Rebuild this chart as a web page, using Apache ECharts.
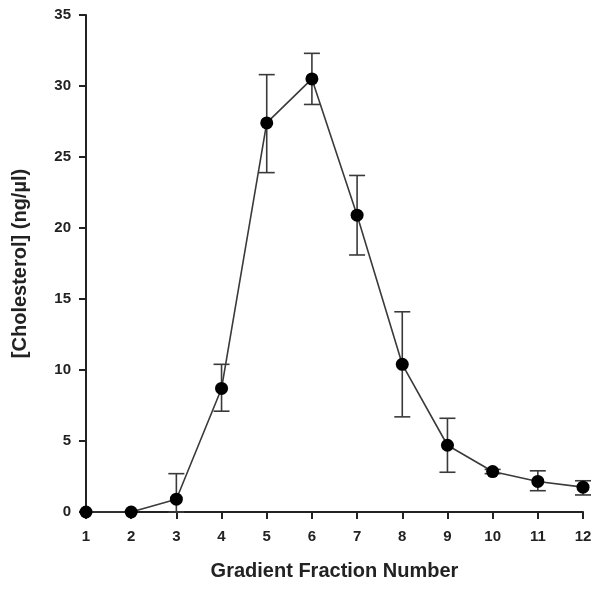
<!DOCTYPE html>
<html>
<head>
    <meta charset="utf-8">
    <title>Cholesterol</title>
    <script type="text/javascript" src="https://cdn.jsdelivr.net/npm/echarts@6/dist/echarts.min.js"></script>
    <style>
        html, body { margin: 0; padding: 0; background: #fff; }
    </style>
</head>
<body>
	<div id="main" style="height:590px; width:601px;"></div>
	<script type="text/javascript">
	// gradient fractions and cholesterol values (ng/ul)
	var fractions = [1, 2, 3, 4, 5, 6, 7, 8, 9, 10, 11, 12];
	var cholesterol = [0, 0, 0.9, 8.7, 27.4, 30.5, 20.9, 10.4, 4.7, 2.85, 2.15, 1.75];
	var errLow = [null, null, 0, 7.1, 23.9, 28.7, 18.1, 6.7, 2.8, 2.7, 1.5, 1.2];
	var errHigh = [null, null, 2.7, 10.4, 30.8, 32.3, 23.7, 14.1, 6.6, 3.0, 2.9, 2.2];
	var yTicks = [0, 5, 10, 15, 20, 25, 30, 35];

	var myChart = echarts.init(document.getElementById('main'));
	var font = '"Liberation Sans", Arial, sans-serif';

	var points = fractions.map(function(v, k){ return [v, cholesterol[k]]; });
	var bars = [];
	fractions.forEach(function(v, k){
		if (errLow[k] !== null) bars.push([v, errLow[k], errHigh[k]]);
	});

	var option = {
		animation: false,
		grid: {left: 86, right: 18, top: 15, bottom: 78},
		xAxis: {
			type: 'value',
			min: 1,
			max: 12,
			interval: 1,
			name: 'Gradient Fraction Number',
			nameLocation: 'middle',
			nameGap: 49,
			nameTextStyle: {fontFamily: font, fontSize: 20, fontWeight: 'bold', color: '#222'},
			axisLine: {lineStyle: {color: '#222', width: 2}},
			axisTick: {length: 7, lineStyle: {color: '#222', width: 2}},
			axisLabel: {fontFamily: font, fontSize: 15, fontWeight: 'bold', color: '#222', margin: 17},
			splitLine: {show: false}
		},
		yAxis: {
			type: 'value',
			min: yTicks[0],
			max: yTicks[yTicks.length - 1],
			interval: 5,
			name: '[Cholesterol] (ng/\u00b5l)',
			nameLocation: 'middle',
			nameGap: 56,
			nameTextStyle: {fontFamily: font, fontSize: 20, fontWeight: 'bold', color: '#222'},
			axisLine: {show: true, lineStyle: {color: '#222', width: 2}},
			axisTick: {show: true, length: 7, lineStyle: {color: '#222', width: 2}},
			axisLabel: {fontFamily: font, fontSize: 15, fontWeight: 'bold', color: '#222', margin: 15},
			splitLine: {show: false}
		},
		series: [
			{
				type: 'line',
				data: points,
				showSymbol: false,
				lineStyle: {color: '#3a3a3a', width: 1.6},
				z: 2
			},
			{
				type: 'custom',
				data: bars,
				z: 3,
				renderItem: function(params, api){
					var x = api.value(0);
					var lo = api.coord([x, api.value(1)]);
					var hi = api.coord([x, api.value(2)]);
					var hw = 8;
					var style = {stroke: '#3a3a3a', lineWidth: 1.6};
					return {
						type: 'group',
						children: [
							{type: 'line', shape: {x1: hi[0], y1: hi[1], x2: lo[0], y2: lo[1]}, style: style},
							{type: 'line', shape: {x1: hi[0] - hw, y1: hi[1], x2: hi[0] + hw, y2: hi[1]}, style: style},
							{type: 'line', shape: {x1: lo[0] - hw, y1: lo[1], x2: lo[0] + hw, y2: lo[1]}, style: style}
						]
					};
				}
			},
			{
				type: 'scatter',
				data: points,
				symbol: 'circle',
				symbolSize: 13,
				itemStyle: {color: '#000', opacity: 1},
				z: 4
			}
		]
	};
	myChart.setOption(option);
	</script>
</body>
</html>
